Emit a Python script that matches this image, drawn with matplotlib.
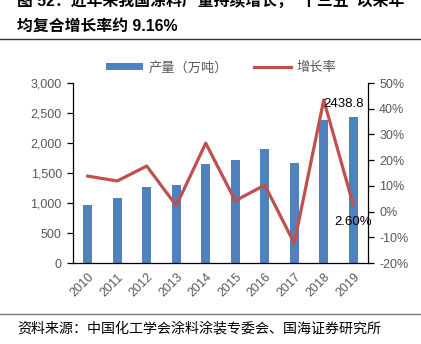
import matplotlib.pyplot as plt
from matplotlib.lines import Line2D
from matplotlib.patches import Patch
from matplotlib.ticker import FuncFormatter

plt.rcParams['font.family'] = ['Liberation Sans', 'Noto Sans CJK SC', 'DejaVu Sans']

years = ['2010', '2011', '2012', '2013', '2014', '2015', '2016', '2017', '2018', '2019']
output = [962, 1078, 1268, 1300, 1645, 1717, 1900, 1661, 2377, 2438.8]
growth = [13.8, 11.9, 17.7, 2.3, 26.6, 4.2, 10.3, -12.3, 43.4, 2.6]

title_1 = '图 52：近年来我国涂料产量持续增长，“十三五”以来年'
title_2 = '均复合增长率约 9.16%'
source = '资料来源：中国化工学会涂料涂装专委会、国海证券研究所'

bar_color = '#4F81BD'
line_color = '#C0504D'
grey = '#595959'

fig = plt.figure(figsize=(4.21, 3.44), dpi=100)
ax = fig.add_axes([73 / 421, 81 / 344, 295 / 421, 180 / 344])
ax2 = ax.twinx()

x = list(range(len(years)))
ax.bar(x, output, width=0.32, color=bar_color, zorder=2)
ax2.plot(x, growth, color=line_color, linewidth=2.3, zorder=3)

ax.set_xlim(-0.5, len(years) - 0.5)
ax.set_ylim(0, 3000)
ax.set_yticks(range(0, 3001, 500))
ax.yaxis.set_major_formatter(FuncFormatter(lambda v, p: f'{int(v):,}'))
ax2.set_ylim(-20, 50)
ax2.set_yticks(range(-20, 51, 10))
ax2.yaxis.set_major_formatter(FuncFormatter(lambda v, p: f'{int(v)}%'))

ax.set_xticks(x)
ax.set_xticklabels(years, rotation=45, ha='right', rotation_mode='anchor')
ax.tick_params(axis='x', length=0, pad=6, labelsize=9, labelcolor=grey)
ax.tick_params(axis='y', direction='out', length=4, width=0.9, labelsize=9, labelcolor=grey, pad=4)
ax2.tick_params(axis='y', direction='out', length=4, width=0.9, labelsize=9, labelcolor=grey, pad=4)

for a in (ax, ax2):
    a.spines['top'].set_visible(False)
    for s in ('left', 'right', 'bottom'):
        a.spines[s].set_color('#000000')
        a.spines[s].set_linewidth(0.9)
ax.spines['right'].set_visible(False)
ax2.spines['bottom'].set_visible(False)
ax2.spines['left'].set_visible(False)

ax2.text(8, growth[8] - 1.5, f'{output[9]}', fontsize=9.5, color='black', ha='left', va='center')
ax2.text(9, growth[9] - 4.5, f'{growth[9]:.2f}%', fontsize=9.5, color='black', ha='center', va='top')

handles = [Patch(facecolor=bar_color), Line2D([0], [0], color=line_color, linewidth=2.3)]
fig.legend(handles, ['产量（万吨）', '增长率'], loc='center', bbox_to_anchor=(221 / 421, 1 - 68 / 344),
           ncol=2, frameon=False, fontsize=9.5, labelcolor=grey, handlelength=2.8,
           handleheight=0.5, columnspacing=2.0, handletextpad=0.4)

fig.text(17 / 421, 1 - 2 / 344, title_1, fontsize=11.4, fontweight='bold', ha='left', va='center')
fig.text(17 / 421, 1 - 26 / 344, title_2, fontsize=11.4, fontweight='bold', ha='left', va='center')
fig.add_artist(Line2D([0, 1], [1 - 38.5 / 344, 1 - 38.5 / 344], color='#333333', linewidth=1))
fig.add_artist(Line2D([0, 1], [1 - 313.5 / 344, 1 - 313.5 / 344], color='#777777', linewidth=1))
fig.text(17 / 421, 1 - 328 / 344, source, fontsize=10.1, ha='left', va='center')

fig.savefig('out.png', dpi=100)
